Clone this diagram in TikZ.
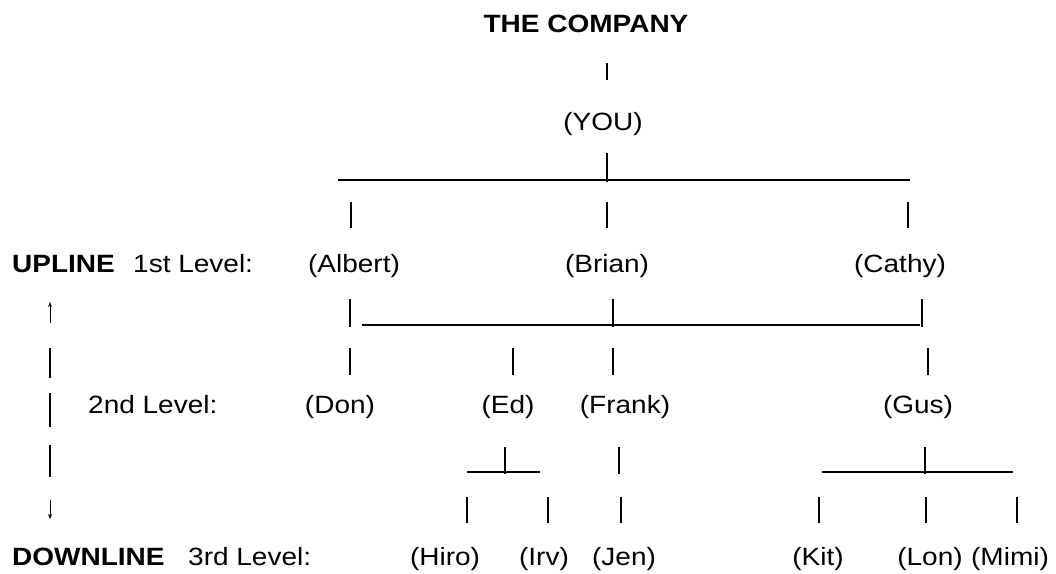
\documentclass[tikz,border=0pt]{standalone}
\usepackage{fontspec}
\setmainfont{Liberation Sans}[FakeStretch=1.12]
\usetikzlibrary{arrows.meta}
\tikzset{every node/.append style={font=\fontsize{25}{30}\selectfont,inner sep=0pt,anchor=base}}
\tikzset{bar/.style={line width=2.4pt},rule/.style={line width=2pt},
  updown/.style={line width=1pt,-{Stealth[length=5pt,width=4pt]}}}

\begin{document}
\begin{tikzpicture}[x=1pt,y=-1pt]
  \useasboundingbox (0,0) rectangle (1056,573);
  % the tree
  \node (company) at (586,32) {\textbf{THE COMPANY}};
  \node (you) at (603,130) {(YOU)};
  \node (albert) at (354,272) {(Albert)};
  \node (brian) at (607,272) {(Brian)};
  \node (cathy) at (900,272) {(Cathy)};
  \node (don) at (340,413) {(Don)};
  \node (ed) at (508,413) {(Ed)};
  \node (frank) at (625,413) {(Frank)};
  \node (gus) at (918,413) {(Gus)};
  \node (hiro) at (445,565) {(Hiro)};
  \node (irv) at (544,565) {(Irv)};
  \node (jen) at (624,565) {(Jen)};
  \node (kit) at (818,565) {(Kit)};
  \node (lon) at (930,565) {(Lon)};
  \node (mimi) at (1010,565) {(Mimi)};
  % levels on the left
  \node[anchor=base west] (upline) at (12,272) {\textbf{UPLINE}};
  \node[anchor=base west] (lvlone) at (133,272) {1st Level:};
  \node[anchor=base west] (lvltwo) at (88,413) {2nd Level:};
  \node[anchor=base west] (downline) at (12,565) {\textbf{DOWNLINE}};
  \node[anchor=base west] (lvlthree) at (188,565) {3rd Level:};

  % lines between the levels
  \coordinate (youL) at (338,180);
  \coordinate (youR) at (910,180);
  \coordinate (firstL) at (362,325);
  \coordinate (firstR) at (920,325);
  \coordinate (edL) at (467,472);
  \coordinate (edR) at (540,472);
  \coordinate (gusL) at (822,472);
  \coordinate (gusR) at (1013,472);
  \draw[rule] (youL) -- (youR);
  \draw[rule] (firstL) -- (firstR);
  \draw[rule] (edL) -- (edR);
  \draw[rule] (gusL) -- (gusR);

  \draw[bar] (607,63) -- (607,80);
  \draw[bar] (607,153) -- (607,182);
  \foreach \x in {351,607,908} \draw[bar] (\x,202) -- (\x,228);
  \foreach \x in {350,613,922} \draw[bar] (\x,299) -- (\x,327);
  \foreach \x in {350,513,613,928} \draw[bar] (\x,348) -- (\x,375);
  \foreach \x in {505,619,925} \draw[bar] (\x,447) -- (\x,474);
  \foreach \x in {467,548,621,819,926,1017} \draw[bar] (\x,497) -- (\x,523);

  % up and down
  \draw[updown] (50,323) -- (50,302);
  \foreach \y/\z in {348/378,393/427,445/477} \draw[line width=1.6pt] (50,\y) -- (50,\z);
  \draw[updown] (50,500) -- (50,519);
\end{tikzpicture}
\end{document}
